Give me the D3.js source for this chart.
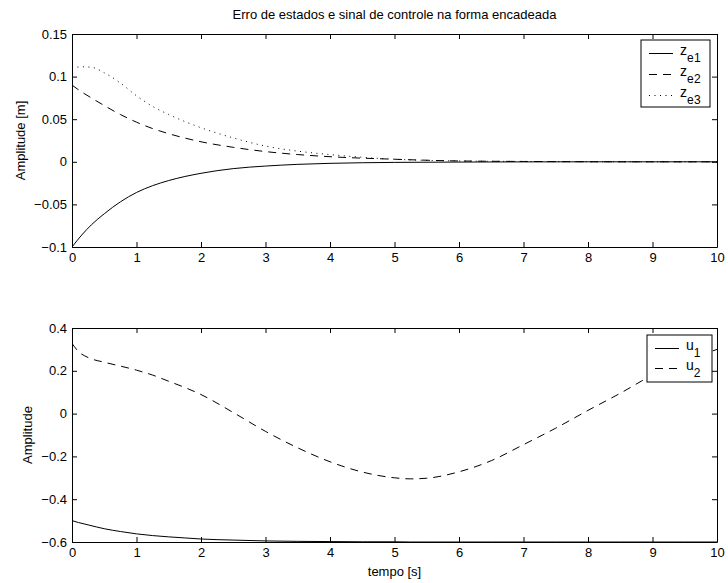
<!DOCTYPE html>
<html>
<head>
<meta charset="utf-8">
<script src="https://cdn.jsdelivr.net/npm/d3@7"></script>
<style>
  body { margin: 0; background: #fff; }
  svg { display: block; font-family: "Liberation Sans", Arial, sans-serif; }
  .tick text { font-size: 13px; fill: #000; }
  .domain, .tick line { stroke: #000; }
</style>
</head>
<body>
<div id="chart"></div>
<script>
// time samples
var timeTop = [0, 0.15, 0.3, 0.5, 0.75, 1, 1.25, 1.5, 2, 2.5, 3, 3.5, 4, 5, 6, 7, 8, 9, 10];
var ze1 = [-0.1, -0.086, -0.074, -0.061, -0.047, -0.036, -0.028, -0.022, -0.0135, -0.008, -0.005, -0.003, -0.0018, -0.0007, -0.0003, -0.0001, 0, 0, 0];
var ze2 = [0.09, 0.082, 0.075, 0.066, 0.0555, 0.0465, 0.039, 0.033, 0.0235, 0.017, 0.012, 0.0085, 0.006, 0.003, 0.001, 0.0004, 0.0001, 0, 0];
var ze3 = [0.110, 0.1115, 0.111, 0.1045, 0.0925, 0.0775, 0.065, 0.0555, 0.040, 0.028, 0.0185, 0.0125, 0.0085, 0.003, 0.001, 0.0004, 0.0001, 0, 0];

var timeBottom = [0, 0.1, 0.25, 0.5, 0.75, 1, 1.25, 1.5, 1.75, 2, 2.5, 3, 3.5, 4, 4.5, 5, 5.25, 5.5, 6, 6.5, 7, 7.5, 8, 8.5, 9, 9.5, 10];
var u1 = [-0.5, -0.509, -0.52, -0.538, -0.551, -0.562, -0.57, -0.576, -0.581, -0.586, -0.591, -0.595, -0.597, -0.598, -0.599, -0.599, -0.6, -0.6, -0.6, -0.6, -0.6, -0.6, -0.6, -0.6, -0.6, -0.6, -0.6];
var u2 = [0.328, 0.29, 0.262, 0.240, 0.222, 0.203, 0.18, 0.151, 0.122, 0.089, 0.005, -0.083, -0.16, -0.225, -0.273, -0.3, -0.305, -0.302, -0.272, -0.22, -0.145, -0.068, 0.015, 0.095, 0.18, 0.245, 0.30];

var xTicks = [0, 1, 2, 3, 4, 5, 6, 7, 8, 9, 10];
var yTicksTop = [-0.1, -0.05, 0, 0.05, 0.1, 0.15];
var yTicksBottom = [-0.6, -0.4, -0.2, 0, 0.2, 0.4];

var W = 728, H = 583;
var left = 72, right = 717;

var svg = d3.select("#chart").append("svg")
    .attr("width", W)
    .attr("height", H);

var fmt = function(d) { return String(+d.toFixed(2)).replace("-", "\u2212"); };

var x = d3.scaleLinear().domain([0, 10]).range([left, right]);

function panel(id, top, bottom, yDomain, yTicks, yLabel, yLabelX, series, legend) {
  var y = d3.scaleLinear().domain(yDomain).range([bottom, top]);
  var g = svg.append("g");

  g.append("clipPath").attr("id", id)
    .append("rect")
      .attr("x", left).attr("y", top)
      .attr("width", right - left).attr("height", bottom - top);

  // curves
  series.forEach(function(s) {
    var line = d3.line()
      .x(function(d, i) { return x(s.t[i]); })
      .y(function(d) { return y(d); })
      .curve(d3.curveMonotoneX);
    g.append("path")
      .attr("clip-path", "url(#" + id + ")")
      .attr("d", line(s.v))
      .attr("fill", "none")
      .attr("stroke", "#000")
      .attr("stroke-width", 1)
      .attr("stroke-dasharray", s.dash);
  });

  // axes, ticks pointing inward like matlab
  g.append("g")
    .attr("transform", "translate(0," + bottom + ")")
    .call(d3.axisBottom(x).tickValues(xTicks).tickSizeInner(-5).tickSizeOuter(0).tickPadding(6).tickFormat(d3.format("d")));
  g.append("g")
    .attr("transform", "translate(0," + top + ")")
    .call(d3.axisTop(x).tickValues(xTicks).tickSizeInner(-5).tickSizeOuter(0).tickFormat(""));
  g.append("g")
    .attr("transform", "translate(" + left + ",0)")
    .call(d3.axisLeft(y).tickValues(yTicks).tickSizeInner(-5).tickSizeOuter(0).tickPadding(5).tickFormat(fmt));
  g.append("g")
    .attr("transform", "translate(" + right + ",0)")
    .call(d3.axisRight(y).tickValues(yTicks).tickSizeInner(-5).tickSizeOuter(0).tickFormat(""));

  g.selectAll(".domain").attr("stroke-width", 1);

  g.append("text")
    .attr("transform", "translate(" + yLabelX + "," + ((top + bottom) / 2) + ") rotate(-90)")
    .attr("text-anchor", "middle")
    .attr("font-size", 13)
    .text(yLabel);

  // legend box
  var lg = g.append("g");
  lg.append("rect")
    .attr("x", legend.x).attr("y", legend.y)
    .attr("width", legend.w).attr("height", legend.h)
    .attr("fill", "#fff").attr("stroke", "#000").attr("stroke-width", 1);
  series.forEach(function(s, i) {
    var ly = legend.y + 13.5 + i * legend.step;
    lg.append("line")
      .attr("x1", legend.x + 8).attr("x2", legend.x + 32)
      .attr("y1", ly).attr("y2", ly)
      .attr("stroke", "#000").attr("stroke-width", 1)
      .attr("stroke-dasharray", s.dash);
    var t = lg.append("text")
      .attr("x", legend.x + 39).attr("y", ly + 1.5)
      .attr("font-size", 14);
    t.append("tspan").text(s.name);
    t.append("tspan").attr("dy", 7).attr("font-size", 12).attr("letter-spacing", 0.4).text(s.sub);
  });

  return y;
}

panel("clipTop", 34, 247, [-0.1, 0.15], yTicksTop, "Amplitude [m]", 25,
  [
    {name: "z", sub: "e1", t: timeTop, v: ze1, dash: null},
    {name: "z", sub: "e2", t: timeTop, v: ze2, dash: "8,6"},
    {name: "z", sub: "e3", t: timeTop, v: ze3, dash: "1,4.5"}
  ],
  {x: 641, y: 40, w: 69, h: 67, step: 21});

panel("clipBottom", 328, 542, [-0.6, 0.4], yTicksBottom, "Amplitude", 32,
  [
    {name: "u", sub: "1", t: timeBottom, v: u1, dash: null},
    {name: "u", sub: "2", t: timeBottom, v: u2, dash: "8,6"}
  ],
  {x: 647, y: 335, w: 65, h: 47, step: 20});

svg.append("text")
  .attr("x", (left + right) / 2).attr("y", 19)
  .attr("text-anchor", "middle")
  .attr("font-size", 13)
  .text("Erro de estados e sinal de controle na forma encadeada");

svg.append("text")
  .attr("x", (left + right) / 2).attr("y", 576)
  .attr("text-anchor", "middle")
  .attr("font-size", 13)
  .text("tempo [s]");
</script>
</body>
</html>
